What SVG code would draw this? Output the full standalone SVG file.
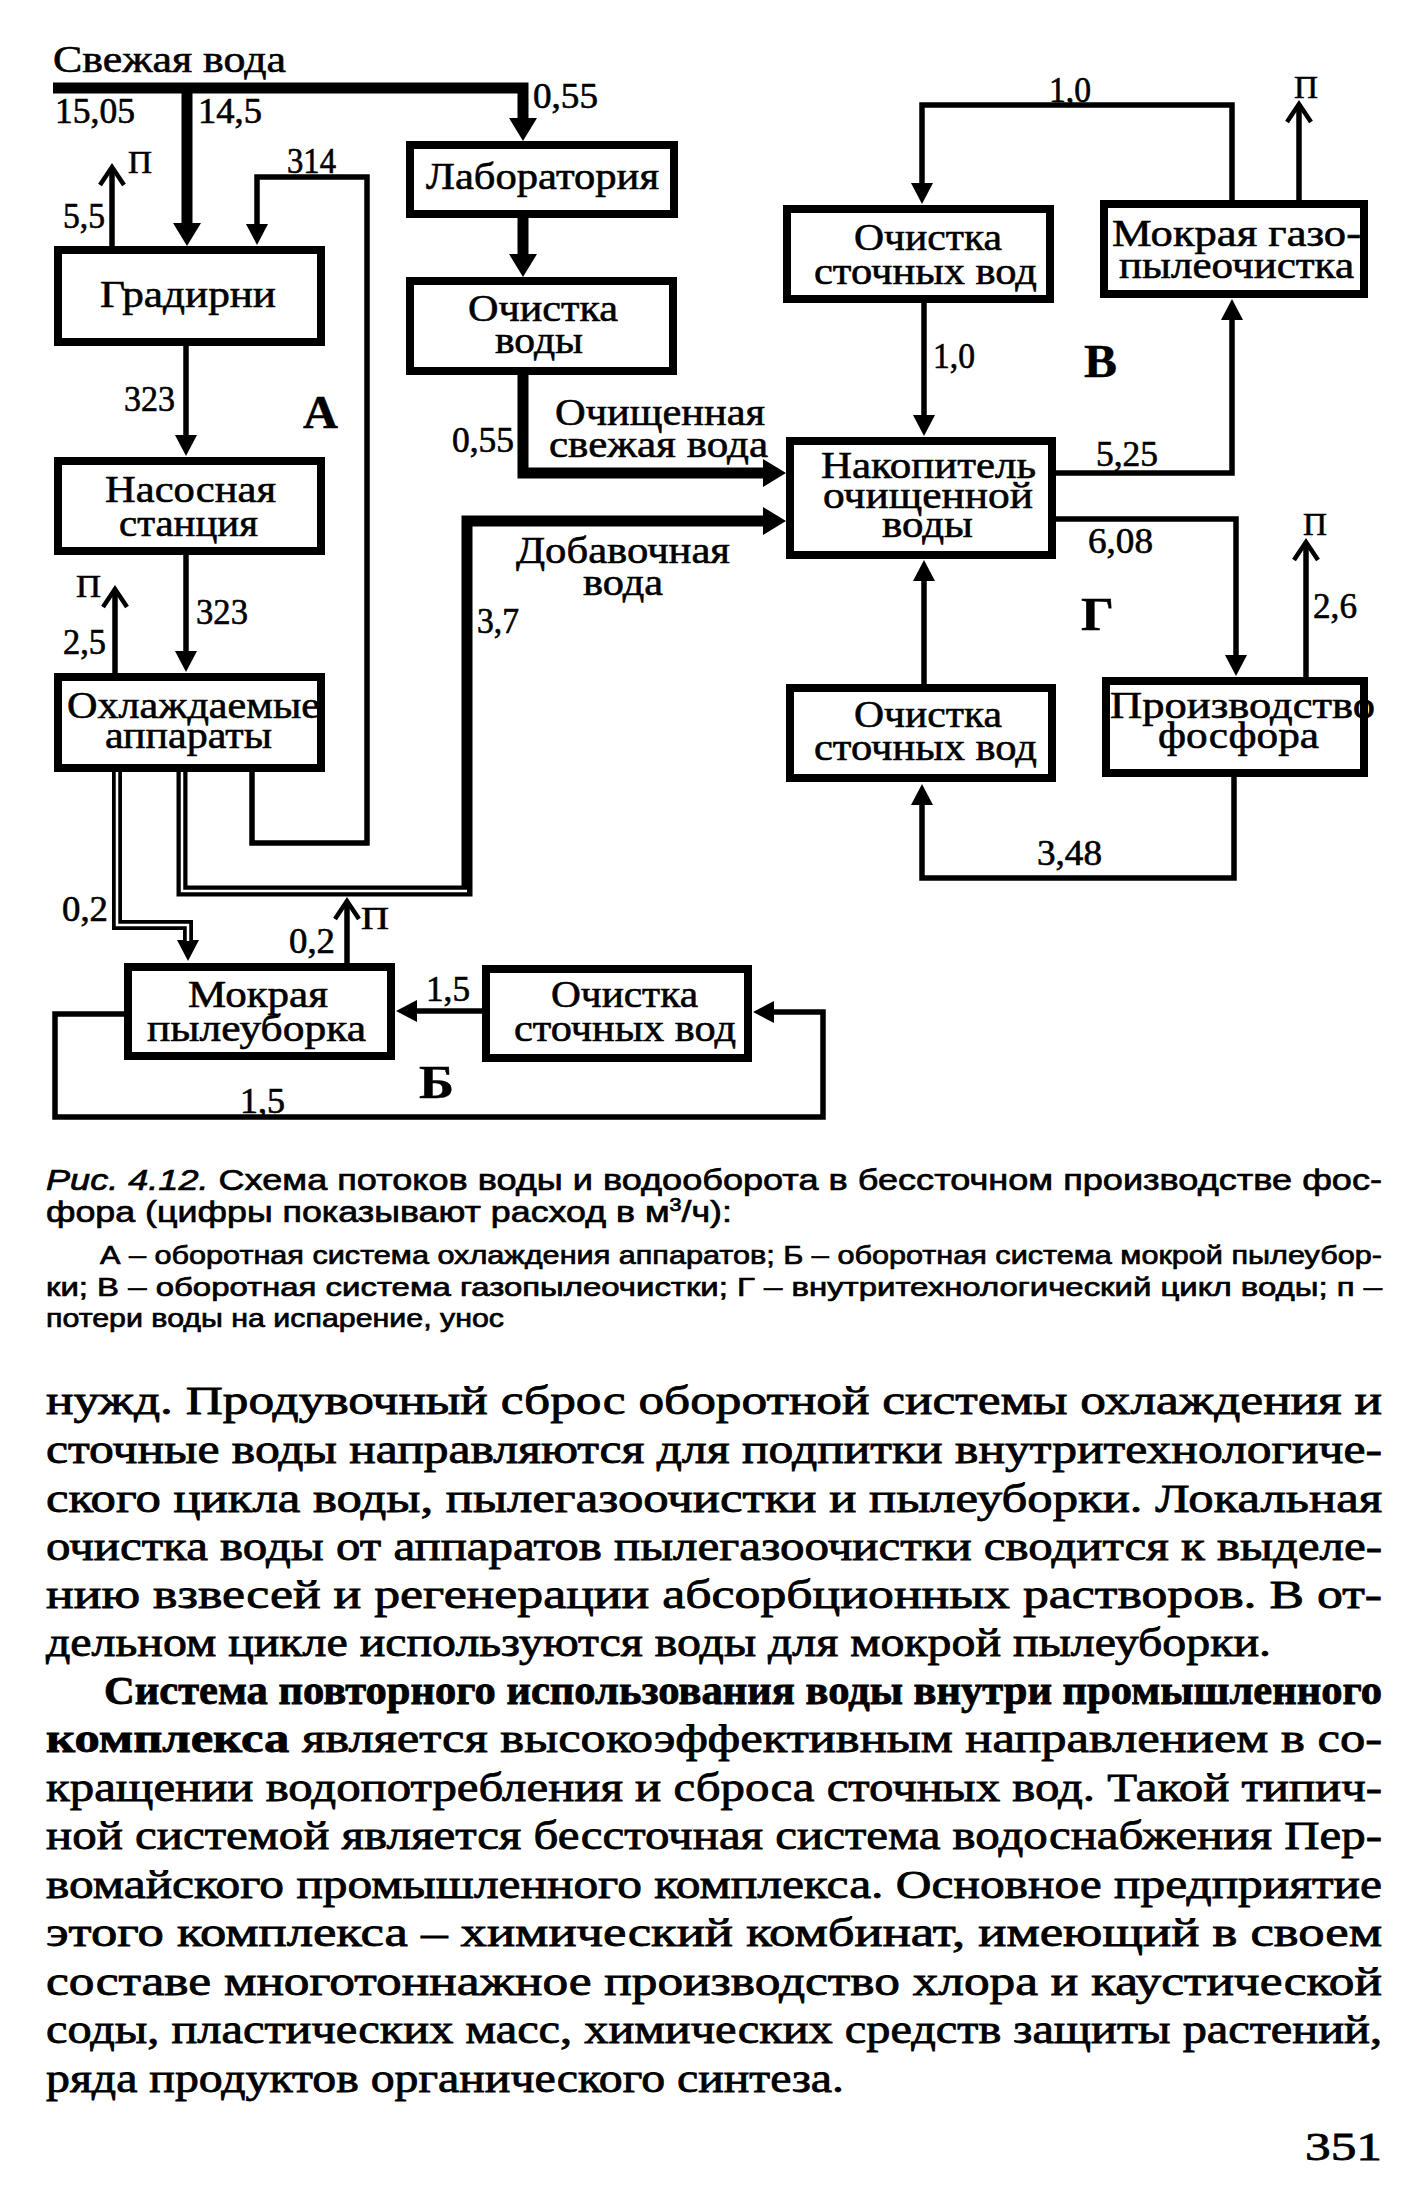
<svg xmlns="http://www.w3.org/2000/svg" width="1425" height="2188" viewBox="0 0 1425 2188">
<style>
.box{fill:#fff;stroke:#000;stroke-width:8}
.ln{fill:none;stroke:#000;stroke-width:5.5}
.thk{fill:none;stroke:#000;stroke-width:11}
.dbl{fill:none;stroke:#000;stroke-width:10}
.core{fill:none;stroke:#fff;stroke-width:2.5}
text{fill:#000;stroke:#000}
.t{font-family:"Liberation Serif",serif;font-size:38px;stroke-width:0.6px}
.n{font-family:"Liberation Serif",serif;font-size:35px;stroke-width:0.6px}
.p{font-family:"Liberation Serif",serif;font-size:32px;stroke-width:0.6px}
.L{font-family:"Liberation Serif",serif;font-size:46px;font-weight:bold;stroke-width:0.4px}
.cap{font-family:"Liberation Sans",sans-serif;font-size:30px;stroke-width:0.7px}
.cap2{font-family:"Liberation Sans",sans-serif;font-size:26px;stroke-width:0.7px}
.body{font-family:"Liberation Serif",serif;font-size:40px;stroke-width:0.8px}
</style>
<defs>
<marker id="ah" markerUnits="userSpaceOnUse" viewBox="0 0 24 28" markerWidth="24" markerHeight="28" refX="1" refY="14" orient="auto"><path d="M0,0 L23,14 L0,28 z" fill="#000"/></marker>
<marker id="as" markerUnits="userSpaceOnUse" viewBox="0 0 22 22" markerWidth="22" markerHeight="22" refX="1" refY="11" orient="auto"><path d="M0,0 L21,11 L0,22 z" fill="#000"/></marker>
<marker id="ao" markerUnits="userSpaceOnUse" viewBox="0 0 22 28" markerWidth="22" markerHeight="28" refX="17" refY="14" orient="auto" overflow="visible"><path d="M0,2 L18,14 L0,26" fill="none" stroke="#000" stroke-width="4.5"/></marker>
</defs>
<rect width="1425" height="2188" fill="#fff"/>

<g id="connectors">
<path class="thk" d="M53,88 H523 V119" marker-end="url(#ah)"/>
<path class="thk" d="M187,88 V224" marker-end="url(#ah)"/>
<path class="thk" d="M523,218 V255" marker-end="url(#ah)"/>
<path class="thk" d="M523,375 V473 H764" marker-end="url(#ah)"/>
<path class="thk" d="M182,772 V891 H467 V521 H764" marker-end="url(#ah)"/>
<path class="core" d="M182,772 V891 H467"/>
<path class="dbl" d="M117,772 V925 H188 V941" marker-end="url(#as)"/>
<path class="core" d="M117,772 V925 H188 V941"/>
<path class="ln" d="M252,772 V843 H367 V177 H257 V225" marker-end="url(#as)"/>
<path class="ln" d="M186,346 V436" marker-end="url(#as)"/>
<path class="ln" d="M186,555 V652" marker-end="url(#as)"/>
<path class="ln" d="M112,246 V168" marker-end="url(#ao)"/>
<path class="ln" d="M115,673 V590" marker-end="url(#ao)"/>
<path class="ln" d="M347,963 V902" marker-end="url(#ao)"/>
<path class="ln" d="M482,1011 H416" marker-end="url(#as)"/>
<path class="ln" d="M124,1014 H55 V1117 H823 V1012 H773" marker-end="url(#as)"/>
<path class="ln" d="M1232,200 V105 H922 V184" marker-end="url(#as)"/>
<path class="ln" d="M924,303 V416" marker-end="url(#as)"/>
<path class="ln" d="M1056,473 H1232 V319" marker-end="url(#as)"/>
<path class="ln" d="M1056,519 H1236 V656" marker-end="url(#as)"/>
<path class="ln" d="M1234,777 V878 H922 V804" marker-end="url(#as)"/>
<path class="ln" d="M924,684 V580" marker-end="url(#as)"/>
<path class="ln" d="M1299,200 V105" marker-end="url(#ao)"/>
<path class="ln" d="M1306,677 V543" marker-end="url(#ao)"/>
</g>

<g id="gradirni"><rect class="box" x="58" y="250" width="263" height="92"/>
<text class="t" x="100" y="307" textLength="176" lengthAdjust="spacingAndGlyphs">Градирни</text></g>
<g id="nasosnaya"><rect class="box" x="58" y="461" width="263" height="90"/>
<text class="t" x="105" y="502" textLength="171" lengthAdjust="spacingAndGlyphs">Насосная</text>
<text class="t" x="119" y="536" textLength="139" lengthAdjust="spacingAndGlyphs">станция</text></g>
<g id="okhlazhdaemye"><rect class="box" x="58" y="677" width="263" height="91"/>
<text class="t" x="67" y="718" textLength="253" lengthAdjust="spacingAndGlyphs">Охлаждаемые</text>
<text class="t" x="105" y="748" textLength="167" lengthAdjust="spacingAndGlyphs">аппараты</text></g>
<g id="mokraya-pyleuborka"><rect class="box" x="128" y="967" width="263" height="89"/>
<text class="t" x="188" y="1007" textLength="140" lengthAdjust="spacingAndGlyphs">Мокрая</text>
<text class="t" x="147" y="1041" textLength="219" lengthAdjust="spacingAndGlyphs">пылеуборка</text></g>
<g id="ochistka-b"><rect class="box" x="486" y="969" width="262" height="89"/>
<text class="t" x="551" y="1007" textLength="147" lengthAdjust="spacingAndGlyphs">Очистка</text>
<text class="t" x="514" y="1041" textLength="222" lengthAdjust="spacingAndGlyphs">сточных вод</text></g>
<g id="laboratoriya"><rect class="box" x="410" y="145" width="264" height="69"/>
<text class="t" x="426" y="189" textLength="233" lengthAdjust="spacingAndGlyphs">Лаборатория</text></g>
<g id="ochistka-vody"><rect class="box" x="410" y="281" width="263" height="90"/>
<text class="t" x="468" y="321" textLength="150" lengthAdjust="spacingAndGlyphs">Очистка</text>
<text class="t" x="495" y="353" textLength="88" lengthAdjust="spacingAndGlyphs">воды</text></g>
<g id="ochistka-v"><rect class="box" x="787" y="209" width="263" height="90"/>
<text class="t" x="854" y="250" textLength="148" lengthAdjust="spacingAndGlyphs">Очистка</text>
<text class="t" x="814" y="284" textLength="223" lengthAdjust="spacingAndGlyphs">сточных вод</text></g>
<g id="mokraya-gazo"><rect class="box" x="1104" y="204" width="260" height="90"/>
<text class="t" x="1112" y="246" textLength="249" lengthAdjust="spacingAndGlyphs">Мокрая газо-</text>
<text class="t" x="1119" y="278" textLength="235" lengthAdjust="spacingAndGlyphs">пылеочистка</text></g>
<g id="nakopitel"><rect class="box" x="790" y="441" width="262" height="114"/>
<text class="t" x="821" y="478" textLength="215" lengthAdjust="spacingAndGlyphs">Накопитель</text>
<text class="t" x="823" y="508" textLength="210" lengthAdjust="spacingAndGlyphs">очищенной</text>
<text class="t" x="882" y="537" textLength="91" lengthAdjust="spacingAndGlyphs">воды</text></g>
<g id="ochistka-g"><rect class="box" x="790" y="688" width="262" height="90"/>
<text class="t" x="854" y="727" textLength="148" lengthAdjust="spacingAndGlyphs">Очистка</text>
<text class="t" x="814" y="760" textLength="223" lengthAdjust="spacingAndGlyphs">сточных вод</text></g>
<g id="proizvodstvo"><rect class="box" x="1106" y="681" width="258" height="92"/>
<text class="t" x="1110" y="718" textLength="265" lengthAdjust="spacingAndGlyphs">Производство</text>
<text class="t" x="1158" y="748" textLength="161" lengthAdjust="spacingAndGlyphs">фосфора</text></g>

<g id="labels">
<text class="t" x="53" y="72" textLength="233" lengthAdjust="spacingAndGlyphs">Свежая вода</text>
<text class="n" x="55" y="123" textLength="80" lengthAdjust="spacingAndGlyphs">15,05</text>
<text class="n" x="198" y="123" textLength="64" lengthAdjust="spacingAndGlyphs">14,5</text>
<text class="n" x="533" y="108" textLength="65" lengthAdjust="spacingAndGlyphs">0,55</text>
<text class="p" x="128" y="173" textLength="24" lengthAdjust="spacingAndGlyphs">П</text>
<text class="n" x="63" y="228" textLength="42" lengthAdjust="spacingAndGlyphs">5,5</text>
<text class="n" x="287" y="173" textLength="49" lengthAdjust="spacingAndGlyphs">314</text>
<text class="n" x="124" y="411" textLength="51" lengthAdjust="spacingAndGlyphs">323</text>
<text class="L" x="303" y="428" textLength="35" lengthAdjust="spacingAndGlyphs">А</text>
<text class="p" x="76" y="597" textLength="25" lengthAdjust="spacingAndGlyphs">П</text>
<text class="n" x="63" y="654" textLength="43" lengthAdjust="spacingAndGlyphs">2,5</text>
<text class="n" x="196" y="624" textLength="52" lengthAdjust="spacingAndGlyphs">323</text>
<text class="n" x="62" y="921" textLength="46" lengthAdjust="spacingAndGlyphs">0,2</text>
<text class="n" x="289" y="953" textLength="46" lengthAdjust="spacingAndGlyphs">0,2</text>
<text class="p" x="361" y="929" textLength="28" lengthAdjust="spacingAndGlyphs">П</text>
<text class="n" x="426" y="1001" textLength="44" lengthAdjust="spacingAndGlyphs">1,5</text>
<text class="n" x="240" y="1113" textLength="45" lengthAdjust="spacingAndGlyphs">1,5</text>
<text class="L" x="419" y="1098" textLength="35" lengthAdjust="spacingAndGlyphs">Б</text>
<text class="n" x="452" y="452" textLength="62" lengthAdjust="spacingAndGlyphs">0,55</text>
<text class="t" x="555" y="425" textLength="210" lengthAdjust="spacingAndGlyphs">Очищенная</text>
<text class="t" x="549" y="457" textLength="219" lengthAdjust="spacingAndGlyphs">свежая вода</text>
<text class="t" x="516" y="563" textLength="214" lengthAdjust="spacingAndGlyphs">Добавочная</text>
<text class="t" x="583" y="595" textLength="80" lengthAdjust="spacingAndGlyphs">вода</text>
<text class="n" x="477" y="633" textLength="42" lengthAdjust="spacingAndGlyphs">3,7</text>
<text class="n" x="1049" y="102" textLength="42" lengthAdjust="spacingAndGlyphs">1,0</text>
<text class="p" x="1294" y="98" textLength="24" lengthAdjust="spacingAndGlyphs">П</text>
<text class="n" x="933" y="368" textLength="42" lengthAdjust="spacingAndGlyphs">1,0</text>
<text class="L" x="1084" y="377" textLength="33" lengthAdjust="spacingAndGlyphs">В</text>
<text class="n" x="1096" y="466" textLength="62" lengthAdjust="spacingAndGlyphs">5,25</text>
<text class="n" x="1088" y="553" textLength="65" lengthAdjust="spacingAndGlyphs">6,08</text>
<text class="p" x="1303" y="535" textLength="24" lengthAdjust="spacingAndGlyphs">П</text>
<text class="n" x="1313" y="618" textLength="44" lengthAdjust="spacingAndGlyphs">2,6</text>
<text class="L" x="1081" y="630" textLength="33" lengthAdjust="spacingAndGlyphs">Г</text>
<text class="n" x="1037" y="865" textLength="65" lengthAdjust="spacingAndGlyphs">3,48</text>
</g>

<g id="caption">
<text class="cap" x="46" y="1190" textLength="1336" lengthAdjust="spacingAndGlyphs"><tspan font-style="italic">Рис. 4.12.</tspan> Схема потоков воды и водооборота в бессточном производстве фос-</text>
<text class="cap" x="46" y="1222" textLength="686" lengthAdjust="spacingAndGlyphs">фора (цифры показывают расход в м<tspan font-size="18" dy="-11">3</tspan><tspan dy="11">/ч):</tspan></text>
<text class="cap2" x="100" y="1264" textLength="1282" lengthAdjust="spacingAndGlyphs">А – оборотная система охлаждения аппаратов; Б – оборотная система мокрой пылеубор-</text>
<text class="cap2" x="46" y="1296" textLength="1336" lengthAdjust="spacingAndGlyphs">ки; В – оборотная система газопылеочистки; Г – внутритехнологический цикл воды; п –</text>
<text class="cap2" x="46" y="1327" textLength="458" lengthAdjust="spacingAndGlyphs">потери воды на испарение, унос</text>
</g>

<g id="body">
<text class="body" x="46" y="1414" textLength="1336" lengthAdjust="spacingAndGlyphs">нужд. Продувочный сброс оборотной системы охлаждения и</text>
<text class="body" x="46" y="1463" textLength="1336" lengthAdjust="spacingAndGlyphs">сточные воды направляются для подпитки внутритехнологиче-</text>
<text class="body" x="46" y="1512" textLength="1336" lengthAdjust="spacingAndGlyphs">ского цикла воды, пылегазоочистки и пылеуборки. Локальная</text>
<text class="body" x="46" y="1560" textLength="1336" lengthAdjust="spacingAndGlyphs">очистка воды от аппаратов пылегазоочистки сводится к выделе-</text>
<text class="body" x="46" y="1608" textLength="1336" lengthAdjust="spacingAndGlyphs">нию взвесей и регенерации абсорбционных растворов. В от-</text>
<text class="body" x="46" y="1656" textLength="1225" lengthAdjust="spacingAndGlyphs">дельном цикле используются воды для мокрой пылеуборки.</text>
<text class="body" x="104" y="1704" textLength="1278" lengthAdjust="spacingAndGlyphs" font-weight="bold">Система повторного использования воды внутри промышленного</text>
<text class="body" x="46" y="1752" textLength="1336" lengthAdjust="spacingAndGlyphs"><tspan font-weight="bold">комплекса</tspan> является высокоэффективным направлением в со-</text>
<text class="body" x="46" y="1801" textLength="1336" lengthAdjust="spacingAndGlyphs">кращении водопотребления и сброса сточных вод. Такой типич-</text>
<text class="body" x="46" y="1849" textLength="1336" lengthAdjust="spacingAndGlyphs">ной системой является бессточная система водоснабжения Пер-</text>
<text class="body" x="46" y="1898" textLength="1336" lengthAdjust="spacingAndGlyphs">вомайского промышленного комплекса. Основное предприятие</text>
<text class="body" x="46" y="1946" textLength="1336" lengthAdjust="spacingAndGlyphs">этого комплекса – химический комбинат, имеющий в своем</text>
<text class="body" x="46" y="1995" textLength="1336" lengthAdjust="spacingAndGlyphs">составе многотоннажное производство хлора и каустической</text>
<text class="body" x="46" y="2043" textLength="1336" lengthAdjust="spacingAndGlyphs">соды, пластических масс, химических средств защиты растений,</text>
<text class="body" x="46" y="2092" textLength="798" lengthAdjust="spacingAndGlyphs">ряда продуктов органического синтеза.</text>
<text class="body" x="1305" y="2160" textLength="77" lengthAdjust="spacingAndGlyphs">351</text>
</g>
</svg>
